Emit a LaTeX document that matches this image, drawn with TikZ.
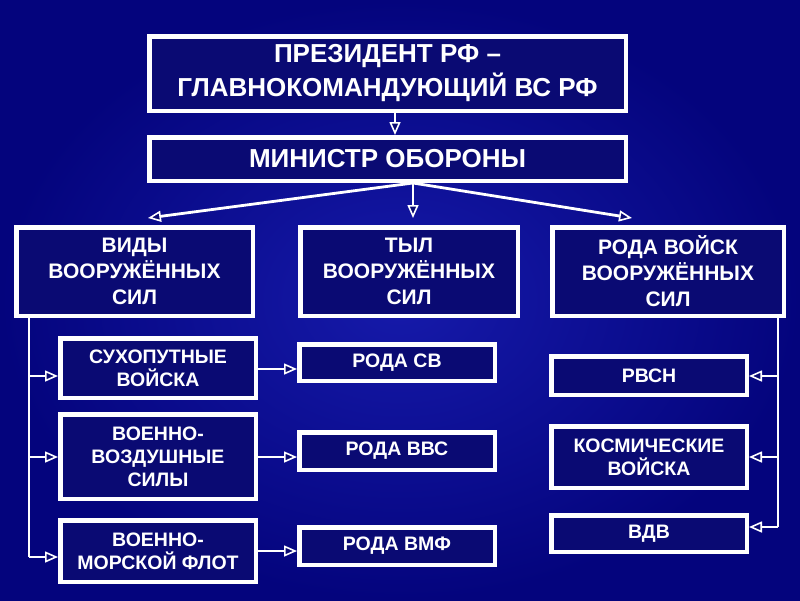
\documentclass[tikz,border=0pt]{standalone}
\usepackage{fontspec}
\setmainfont{Liberation Sans}
\usetikzlibrary{arrows.meta,calc}
\definecolor{bgout}{RGB}{4,4,125}
\definecolor{bgin}{RGB}{22,26,170}
\definecolor{boxc}{RGB}{10,10,115}
\newcommand\fbig{\fontsize{26}{34}\selectfont\bfseries}
\newcommand\fmid{\fontsize{21}{26}\selectfont\bfseries}
\newcommand\fsmall{\fontsize{19.5}{23}\selectfont\bfseries}
\begin{document}
\begin{tikzpicture}[x=1pt,y=-1pt,
  box/.style={draw=white, line width=4.5pt, fill=boxc, text=white, align=center, inner sep=0pt},
  conn/.style={draw=white, line width=2.8pt},
  arr/.style={conn, -{Triangle[open, length=13pt, width=11pt, fill=boxc, line width=1.6pt]}}
]
\shade[inner color=bgin, outer color=bgout] (0,0) rectangle (800,600);
\useasboundingbox (0,0) rectangle (800,600);

% top
\node[box, minimum width=476.5pt, minimum height=74.5pt, font=\fbig] (P) at (387.5,73.5) {ПРЕЗИДЕНТ РФ –\\ГЛАВНОКОМАНДУЮЩИЙ ВС РФ};
\node[box, minimum width=476.5pt, minimum height=43.5pt, font=\fbig] (M) at (387.5,159) {МИНИСТР ОБОРОНЫ};

% row 2
\node[box, minimum width=236.5pt, minimum height=88.5pt, font=\fmid] (V) at (134.5,271.5) {ВИДЫ\\ВООРУЖЁННЫХ\\СИЛ};
\node[box, minimum width=217.5pt, minimum height=88.5pt, font=\fmid] (T) at (409,271.5) {ТЫЛ\\ВООРУЖЁННЫХ\\СИЛ};
\node[box, minimum width=231.5pt, minimum height=88.5pt, font=\fmid] (R) at (668,271.5) {РОДА ВОЙСК\\ВООРУЖЁННЫХ\\СИЛ};

% left column
\node[box, minimum width=195.5pt, minimum height=59.5pt, font=\fsmall] (S1) at (158,368) {СУХОПУТНЫЕ\\ВОЙСКА};
\node[box, minimum width=195.5pt, minimum height=84.5pt, font=\fsmall] (S2) at (158,456.5) {ВОЕННО-\\ВОЗДУШНЫЕ\\СИЛЫ};
\node[box, minimum width=195.5pt, minimum height=61.5pt, font=\fsmall] (S3) at (158,551) {ВОЕННО-\\МОРСКОЙ ФЛОТ};

% middle column
\node[box, minimum width=195.5pt, minimum height=36.5pt, font=\fsmall] (C1) at (397,362.5) {РОДА СВ};
\node[box, minimum width=195.5pt, minimum height=37.5pt, font=\fsmall] (C2) at (397,451) {РОДА ВВС};
\node[box, minimum width=195.5pt, minimum height=37.5pt, font=\fsmall] (C3) at (397,546) {РОДА ВМФ};

% right column
\node[box, minimum width=195.5pt, minimum height=38.5pt, font=\fsmall] (R1) at (649,375.5) {РВСН};
\node[box, minimum width=195.5pt, minimum height=61.5pt, font=\fsmall] (R2) at (649,457) {КОСМИЧЕСКИЕ\\ВОЙСКА};
\node[box, minimum width=195.5pt, minimum height=36.5pt, font=\fsmall] (R3) at (649,533.5) {ВДВ};

% coordinates
\coordinate (pm) at (395,125);
\coordinate (mo) at (413,185);
\coordinate (ml) at (148,218);
\coordinate (mc) at (413,218);
\coordinate (mr) at (632,218);
\coordinate (t1) at (29,376);
\coordinate (t2) at (29,457);
\coordinate (t3) at (29,557);
\coordinate (h1) at (280,369);
\coordinate (h2) at (280,457);
\coordinate (h3) at (280,551);
\coordinate (r1) at (778,376);
\coordinate (r2) at (778,457);
\coordinate (r3) at (778,527);

% connectors
\draw[arr] (P.south -| pm) -- (M.north -| pm);
\draw[arr] (M.south -| mo) -- (ml);
\draw[arr] (M.south -| mo) -- (mc);
\draw[arr] (M.south -| mo) -- (mr);

\draw[conn] (V.south -| t1) -- (t3);
\draw[arr] (t1) -- (S1.west |- t1);
\draw[arr] (t2) -- (S2.west |- t2);
\draw[arr] (t3) -- (S3.west |- t3);

\draw[arr] (S1.east |- h1) -- (C1.west |- h1);
\draw[arr] (S2.east |- h2) -- (C2.west |- h2);
\draw[arr] (S3.east |- h3) -- (C3.west |- h3);

\draw[conn] (R.south -| r1) -- (r3);
\draw[arr] (r1) -- (R1.east |- r1);
\draw[arr] (r2) -- (R2.east |- r2);
\draw[arr] (r3) -- (R3.east |- r3);
\end{tikzpicture}
\end{document}
